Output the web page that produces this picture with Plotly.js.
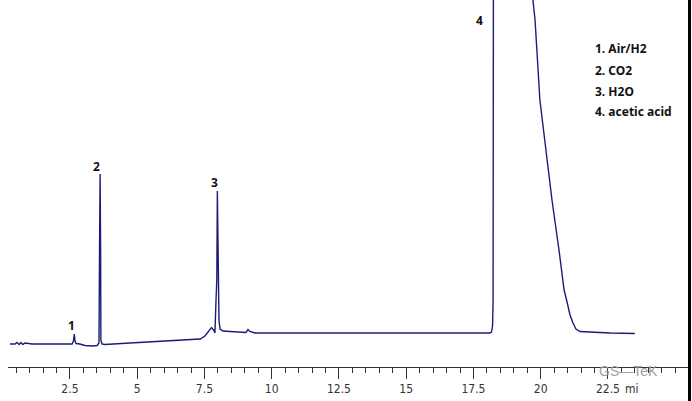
<!DOCTYPE html>
<html>
<head>
<meta charset="utf-8">
<script src="https://cdn.plot.ly/plotly-3.0.1.min.js"></script>
<style>html,body{margin:0;padding:0;background:#fff;}#chart{width:692px;height:401px;}</style>
</head>
<body>
<div id="chart"></div>
<script>
// Retention time (min)
const retentionTime = [
  0.27, 0.46, 0.53, 0.61, 0.68, 0.75, 0.83, 0.94, 1.09,
  2.58, 2.63, 2.66, 2.69, 2.73, 2.87,
  3.06, 3.32, 3.51, 3.58, 3.60, 3.62, 3.64, 3.65, 3.69, 3.80,
  4.73, 5.85, 6.97, 7.34, 7.52, 7.67, 7.76, 7.84, 7.89, 7.93, 7.96, 7.98, 8.00, 8.04, 8.08, 8.19,
  8.45, 8.82, 9.04, 9.12, 9.19, 9.38, 11.05, 14.77,
  18.11, 18.17, 18.21, 18.23, 18.25, 19.10,
  19.72, 19.79, 19.97, 20.20, 20.42, 20.68, 20.87, 20.98, 21.09, 21.20, 21.31, 21.46, 21.83, 22.58, 23.50
];
// Detector signal (arbitrary units)
const signal = [
  23, 23, 24.5, 22.5, 24.5, 22.5, 24, 23.5, 23,
  23, 26, 33, 26, 23.5, 23,
  21.5, 21, 21.5, 24, 117, 193, 117, 27, 23, 22.5,
  24, 25.5, 27, 28, 31, 37, 39.5, 37, 34, 67, 87, 176, 137, 47, 38, 36,
  35.5, 34.5, 34.5, 37.5, 35.5, 34, 34, 34,
  34, 35, 41, 67, 600, 520,
  367, 347, 267, 217, 167, 117, 77, 65, 52, 44, 38, 35.5, 35, 34, 33.5
];
// Peak labels
const peakNumbers = ["1", "2", "3", "4"];
const peakLabelTimes = [2.54, 3.47, 7.89, 17.74];
const peakLabelSignals = [42, 201, 185, 347];
// Compound legend
const compoundNames = ["1. Air/H2", "2. CO2", "3. H2O", "4. acetic acid"];
// Axis ticks
const tickValues = [2.5, 5, 7.5, 10, 12.5, 15, 17.5, 20, 22.5];
const tickLabels = ["2.5", "5", "7.5", "10", "12.5", "15", "17.5", "20", "22.5"];

const tickFont = {family: "DejaVu Sans Condensed, Liberation Sans Narrow, sans-serif", size: 12, color: "#333"};
const boldFont = {family: "Noto Sans, Open Sans, sans-serif", size: 12, color: "#111", weight: "bold"};

const annotations = [];
peakNumbers.forEach((p, i) => {
  annotations.push({x: peakLabelTimes[i], y: peakLabelSignals[i], xref: "x", yref: "y",
    text: "<b>" + p + "</b>", showarrow: false, font: boldFont, xanchor: "center", yanchor: "middle"});
});
const legendY = [0.869, 0.809, 0.752, 0.695];
compoundNames.forEach((n, i) => {
  annotations.push({x: 0.86, y: legendY[i], xref: "paper", yref: "paper",
    text: "<b>" + n + "</b>", showarrow: false, font: boldFont, xanchor: "left", yanchor: "middle"});
});
annotations.push({x: 0.918, y: -0.06, xref: "paper", yref: "paper", text: "mi", showarrow: false,
  font: tickFont, xanchor: "center", yanchor: "middle"});
annotations.push({x: 0.912, y: -0.01, xref: "paper", yref: "paper", text: "GS\u2014TeK", showarrow: false,
  font: {family: "Liberation Sans, Arial, sans-serif", size: 14, color: "#a0a0a0"}, xanchor: "center", yanchor: "middle"});

const trace = {
  x: retentionTime, y: signal, type: "scatter", mode: "lines",
  line: {color: "#1c1c78", width: 1.4}, hoverinfo: "skip"
};

const layout = {
  width: 692, height: 401,
  margin: {l: 8, r: 4, t: 0, b: 34},
  paper_bgcolor: "#fff", plot_bgcolor: "rgba(0,0,0,0)",
  showlegend: false,
  xaxis: {
    range: [0.197, 25.476], showgrid: false, zeroline: false,
    showline: true, linecolor: "#333", linewidth: 1,
    ticks: "outside", ticklen: 11, tickwidth: 1, tickcolor: "#333",
    tickmode: "array", tickvals: tickValues, ticktext: tickLabels,
    tickfont: tickFont,
    minor: {tickmode: "linear", tick0: 0, dtick: 0.5, ticks: "outside", ticklen: 5, tickwidth: 1, tickcolor: "#333", showgrid: false}
  },
  yaxis: {range: [0, 367], visible: false, showgrid: false, zeroline: false},
  annotations: annotations,
  shapes: [{type: "line", xref: "paper", yref: "paper", x0: 1.0022, x1: 1.0022, y0: -0.1, y1: 1.05,
    line: {color: "#000", width: 3}}]
};

Plotly.newPlot("chart", [trace], layout, {staticPlot: true, displayModeBar: false});
</script>
</body>
</html>
